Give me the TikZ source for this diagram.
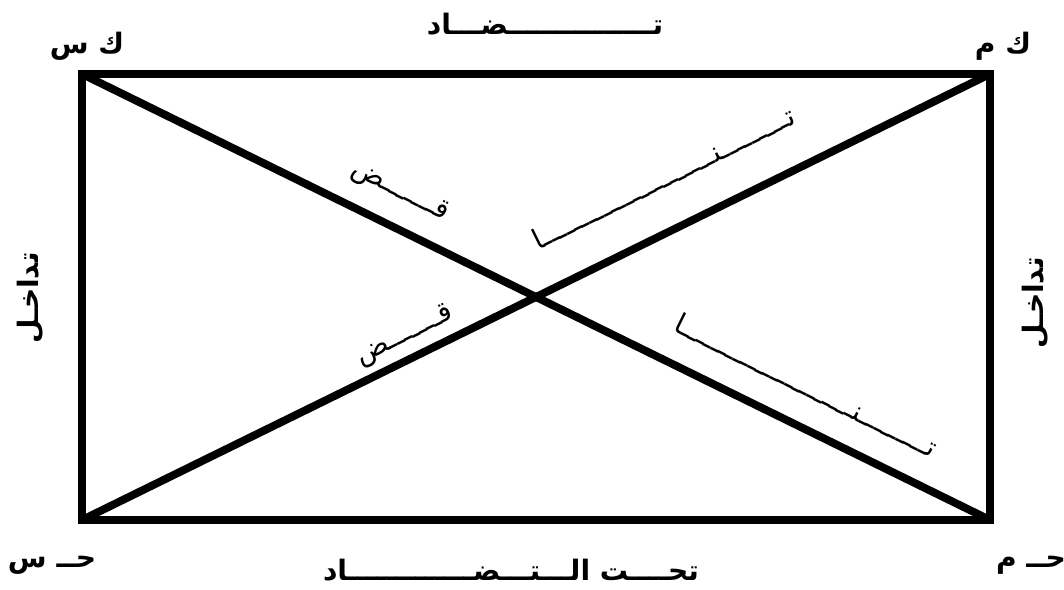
\documentclass[tikz,border=0pt]{standalone}
\usepackage{fontspec}
\newfontfamily\arabicfont[Script=Arabic]{DejaVu Sans}
\TeXXeTstate=1
\newcommand{\ar}[1]{{\arabicfont\beginR #1\endR}}
\tikzset{
  cote/.style={line width=5.6pt},
  etiq/.style={font=\arabicfont\fontsize{20}{24}\selectfont, inner sep=0pt},
  etiqg/.style={etiq, font=\arabicfont\bfseries\fontsize{20}{24}\selectfont},
}
\begin{document}
\begin{tikzpicture}[x=0.025cm,y=-0.025cm]
\useasboundingbox (0,0) rectangle (1064,590);
% sommets du rectangle
\coordinate (KS) at (82,74);
\coordinate (KM) at (990,74);
\coordinate (HM) at (990,520);
\coordinate (HS) at (82,520);

% rectangle et diagonales
\draw[cote, line join=miter] (KS) -- (KM) -- (HM) -- (HS) -- cycle;
\draw[cote] (KS) -- (HM);
\draw[cote] (HS) -- (KM);

% etiquettes des sommets
\node[etiqg] (lKS) at (87,46) {\ar{ك س}};
\node[etiqg] (lKM) at (1003,46) {\ar{ك م}};
\node[etiqg] (lHS) at (52,565) {\ar{حــ س}};
\node[etiqg] (lHM) at (1031,565) {\ar{حــ م}};

% etiquettes des cotes
\node[etiqg] (haut) at (545,24) {\ar{تـــــــــــــــضـــاد}};
\node[etiqg] (bas) at (511,570) {\ar{تحــــت الـــتـــضـــــــــــــاد}};
\node[etiqg, rotate=90] (gauche) at (30,298) {\ar{تداخـل}};
\node[etiqg, rotate=90] (droite) at (1035,303) {\ar{تداخـل}};

% etiquettes des diagonales
\node[etiq, rotate=-26.2] (d1a) at (400,192) {\ar{قـــــــض}};
\node[etiq, rotate=-26.2] (d1b) at (807,385) {\ar{تـــــــــنـــــــــــــــــــــــا}};
\node[etiq, rotate=26.2] (d2a) at (405,336) {\ar{قـــــــض}};
\node[etiq, rotate=26.2] (d2b) at (663,177) {\ar{تـــــــــنـــــــــــــــــــــــا}};
\end{tikzpicture}
\end{document}
